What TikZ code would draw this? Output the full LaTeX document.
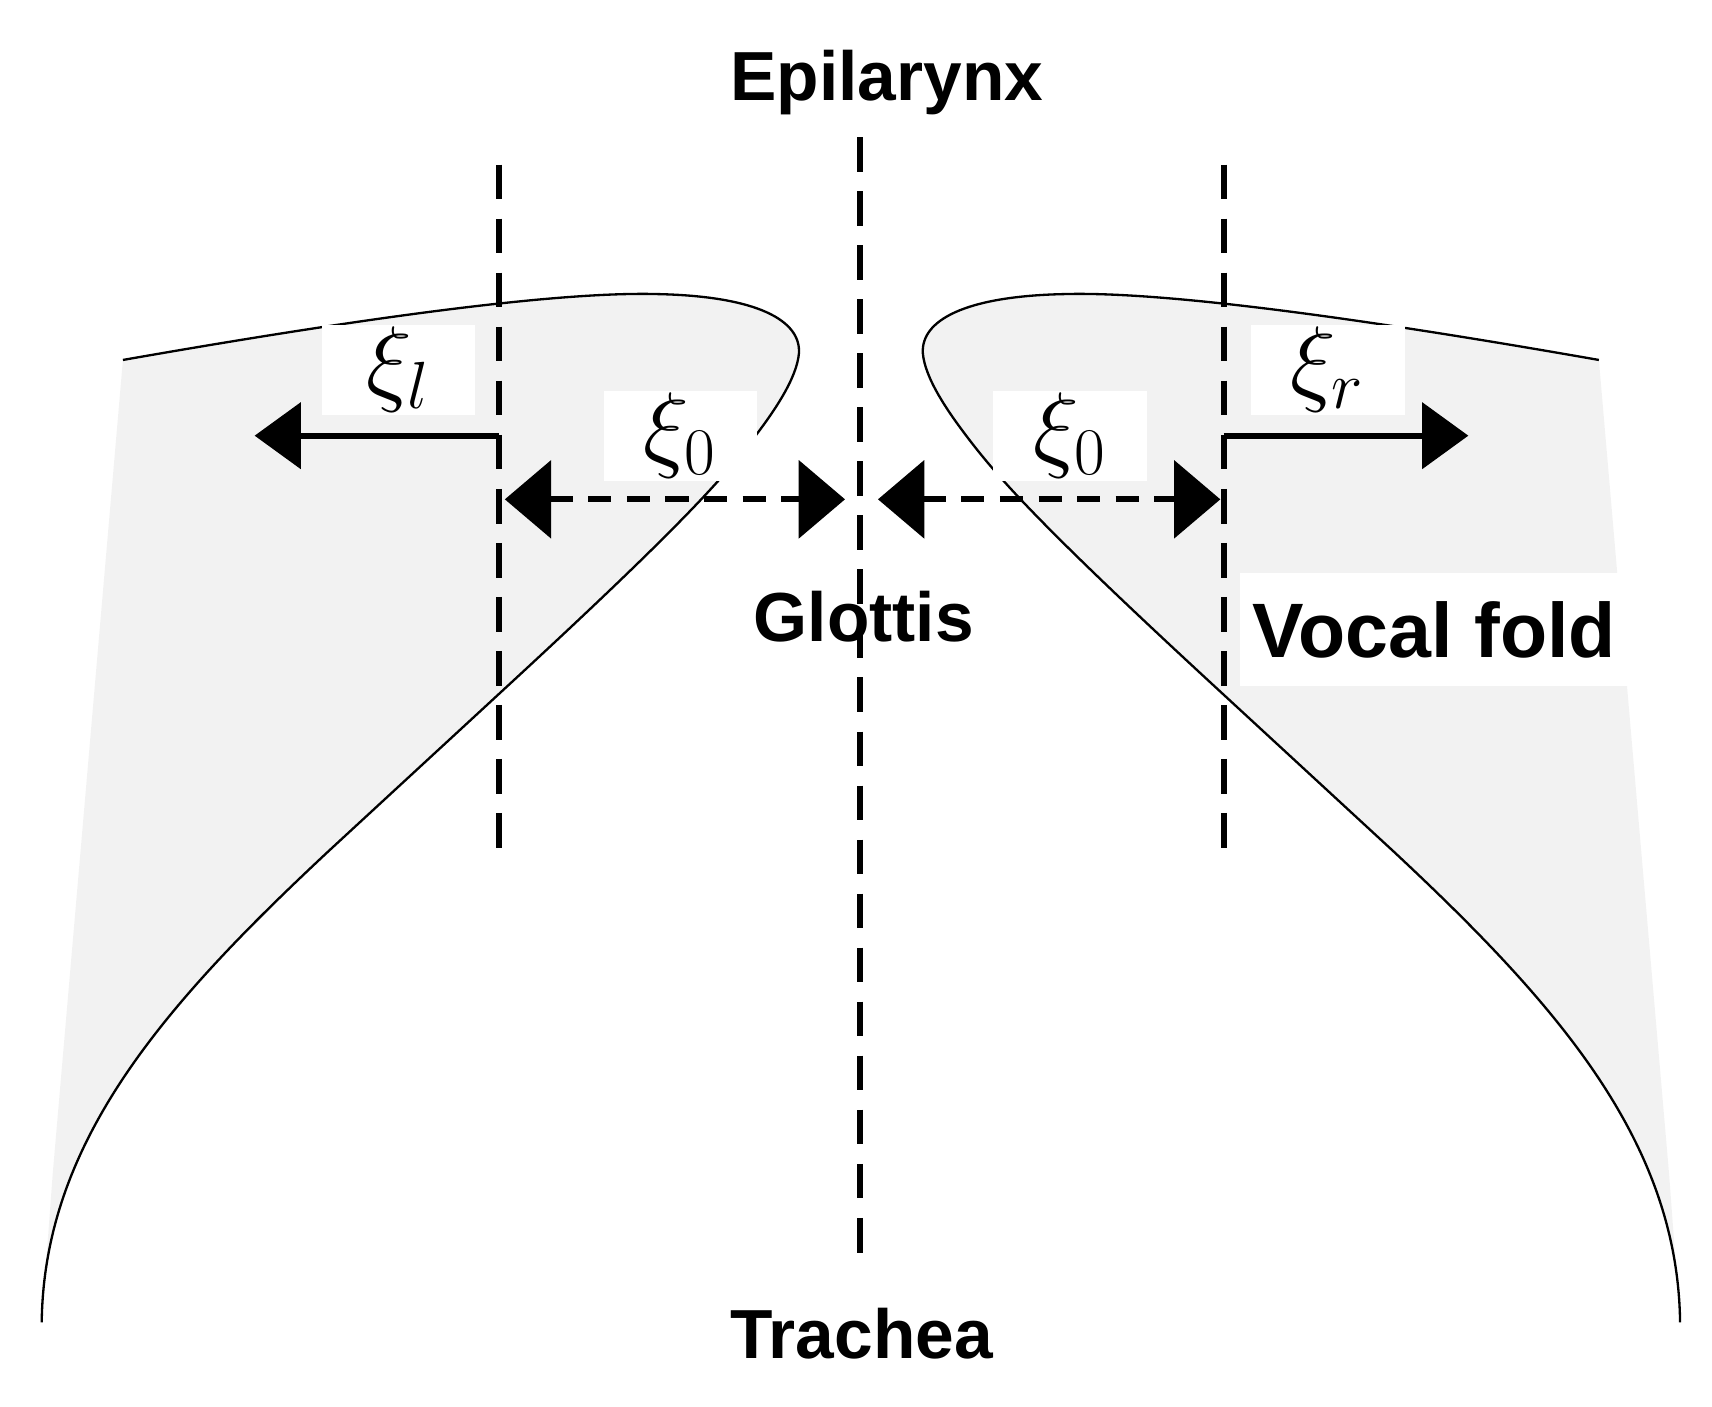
\documentclass[tikz,border=0pt]{standalone}
\usepackage{fontspec}
\setmainfont{Liberation Sans}
\usetikzlibrary{arrows.meta}
\begin{document}
\begin{tikzpicture}[x=0.01cm,y=-0.01cm,
  lbl/.style={font=\fontsize{18}{20}\selectfont\bfseries},
  mlbl/.style={fill=white,minimum width=1.4cm,minimum height=0.82cm,inner sep=0pt,font=\fontsize{25}{27}\selectfont},
  vline/.style={line width=1.6pt,dash pattern=on 9pt off 5pt},
  sarrow/.style={line width=1.6pt,-{Triangle[length=12pt,width=17pt]}},
  darrow/.style={line width=1.6pt,dash pattern=on 6pt off 4pt,{Triangle[length=12pt,width=20pt]}-{Triangle[length=12pt,width=20pt]}}]
\useasboundingbox (0,0) rectangle (1560,1282);
\def\fold{(112,328) .. controls (300,295) and (500,265) .. (600,268) .. controls (690,270) and (730,292) .. (728,322) .. controls (726,345) and (705,375) .. (690,395) .. controls (660,435) and (620,480) .. (455,632) -- (300,775) .. controls (150,915) and (40,1040) .. (38,1205)}
\fill[gray!10] \fold -- (48,1070) -- cycle;
\draw[line width=0.6pt] \fold;
\begin{scope}[xshift=15.68cm,xscale=-1]
\fill[gray!10] \fold -- (48,1070) -- cycle;
\draw[line width=0.6pt] \fold;
\end{scope}
% labels
\node[mlbl] (xl) at (363,337) {$\xi_l$};
\node[mlbl] (x0l) at (620,397) {$\xi_0$};
\node[mlbl] (x0r) at (975,397) {$\xi_0$};
\node[mlbl] (xr) at (1210,337) {$\xi_r$};
\node[lbl,fill=white,minimum width=3.25cm,minimum height=1.03cm] (vf) at (1307,574) {\fontsize{20}{22}\selectfont Vocal fold};
\node[lbl] (epi) at (808,75) {Epilarynx};
\node[lbl] (glo) at (787,562) {Glottis};
\node[lbl] (tra) at (785,1215) {Trachea};
% dashed lines
\coordinate (l1) at (455,150); \coordinate (l2) at (455,785);
\coordinate (c1) at (784,125); \coordinate (c2) at (784,1155);
\coordinate (r1) at (1115,150); \coordinate (r2) at (1115,785);
\draw[vline] (l1) -- (l2);
\draw[vline] (c1) -- (c2);
\draw[vline] (r1) -- (r2);
% arrows
\coordinate (al) at (455,397); \coordinate (alt) at (232,397);
\coordinate (ar) at (1115,397); \coordinate (art) at (1338,397);
\draw[sarrow] (al) -- (alt);
\draw[sarrow] (ar) -- (art);
\coordinate (d1) at (460,455); \coordinate (d2) at (770,455);
\coordinate (d3) at (800,455); \coordinate (d4) at (1112,455);
\draw[darrow] (d1) -- (d2);
\draw[darrow] (d3) -- (d4);
\end{tikzpicture}
\end{document}
